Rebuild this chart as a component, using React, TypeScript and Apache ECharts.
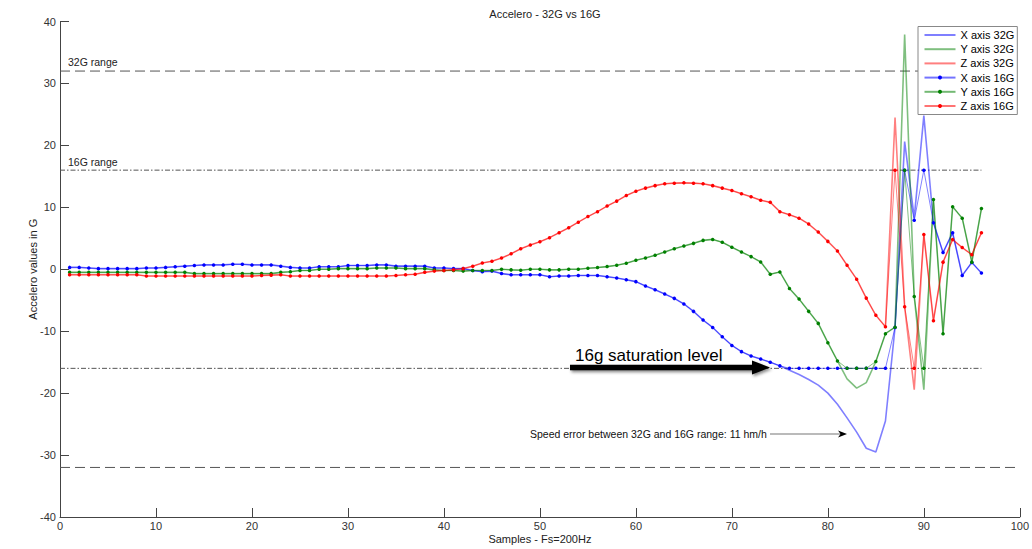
import React, { useEffect, useRef } from 'react';
import * as echarts from 'echarts';

const FONT = '"Liberation Sans", Arial, Helvetica, sans-serif';

// sample index (x values)
const samples = Array.from({ length: 96 }, (_, i) => i + 1);

// ---- 16G acquisition (with markers) ----
const x16 = [
  0.3, 0.3, 0.2, 0.1, 0.1, 0.1, 0.1, 0.1, 0.2, 0.2,
  0.3, 0.4, 0.5, 0.6, 0.7, 0.7, 0.7, 0.8, 0.8, 0.7,
  0.7, 0.7, 0.5, 0.3, 0.2, 0.2, 0.4, 0.4, 0.4, 0.6,
  0.6, 0.6, 0.7, 0.7, 0.5, 0.5, 0.5, 0.5, 0.2, 0.2,
  0.1, 0.1, -0.2, -0.4, -0.3, -0.7, -0.9, -0.9, -0.9, -0.9,
  -1.2, -1.1, -1.1, -1.0, -1.0, -1.0, -1.2, -1.4, -1.7, -2.0,
  -2.7, -3.3, -4.0, -4.7, -5.6, -6.8, -8.2, -9.4, -10.9, -12.3,
  -13.3, -14.0, -14.5, -15.0, -15.6, -16, -16, -16, -16, -16,
  -16, -16, -16, -16, -16, -16, -9.4, 16, 7.9, 16,
  7.5, 2.7, 5.9, -1.0, 1.1, -0.6,
];
const y16 = [
  -0.5, -0.5, -0.5, -0.5, -0.5, -0.5, -0.5, -0.5, -0.5, -0.5,
  -0.5, -0.5, -0.5, -0.7, -0.7, -0.7, -0.7, -0.7, -0.7, -0.7,
  -0.7, -0.7, -0.5, -0.4, -0.2, -0.2, 0, 0, 0.1, 0.1,
  0.1, 0.1, 0.2, 0.2, 0.2, 0.1, 0.1, 0.1, -0.1, -0.2,
  -0.2, -0.3, -0.2, -0.2, -0.2, 0, -0.1, -0.15, 0, 0,
  -0.1, -0.1, 0, 0, 0.16, 0.27, 0.43, 0.64, 0.96, 1.45,
  1.82, 2.25, 2.79, 3.32, 3.75, 4.18, 4.66, 4.82, 4.35, 3.55,
  2.79, 2.04, 1.18, -0.8, -0.43, -3.1, -4.82, -6.8, -8.74, -11.85,
  -14.8, -16, -16, -16, -14.9, -10.4, -9.35, 16, -4.4, -16,
  11.25, -10.4, 10.1, 8.25, 1.15, 9.8,
];
const z16 = [
  -0.9, -0.9, -0.9, -0.9, -0.9, -0.9, -0.9, -0.9, -1.1, -1.1,
  -1.1, -1.1, -1.1, -1.1, -1.1, -1.1, -1.1, -1.1, -1.1, -1.1,
  -1.0, -0.95, -0.9, -1.1, -1.1, -1.1, -1.1, -1.1, -1.1, -1.1,
  -1.1, -1.1, -1.1, -1.1, -1.0, -0.9, -0.8, -0.5, -0.3, -0.2,
  -0.1, 0.1, 0.5, 1.0, 1.3, 1.8, 2.5, 3.3, 3.9, 4.45,
  5.1, 5.9, 6.7, 7.6, 8.5, 9.3, 10.2, 11.0, 11.9, 12.6,
  13.1, 13.5, 13.8, 13.9, 13.95, 13.9, 13.8, 13.5, 13.1, 12.7,
  12.2, 11.7, 11.15, 10.8, 9.3, 8.8, 8.25, 7.3, 6.0, 4.5,
  2.95, 0.65, -1.6, -4.66, -7.44, -9.3, 16, -6.06, -16, 5.6,
  -8.3, 1.15, 4.8, 3.5, 2.35, 5.9,
];

// ---- 32G acquisition (plain lines) ----
const x32 = [
  0.3, 0.3, 0.2, 0.1, 0.1, 0.1, 0.1, 0.1, 0.2, 0.2,
  0.3, 0.4, 0.5, 0.6, 0.7, 0.7, 0.7, 0.8, 0.8, 0.7,
  0.7, 0.7, 0.5, 0.3, 0.2, 0.2, 0.4, 0.4, 0.4, 0.6,
  0.6, 0.6, 0.7, 0.7, 0.5, 0.5, 0.5, 0.5, 0.2, 0.2,
  0.1, 0.1, -0.2, -0.4, -0.3, -0.7, -0.9, -0.9, -0.9, -0.9,
  -1.2, -1.1, -1.1, -1.0, -1.0, -1.0, -1.2, -1.4, -1.7, -2.0,
  -2.7, -3.3, -4.0, -4.7, -5.6, -6.8, -8.2, -9.4, -10.9, -12.3,
  -13.3, -14.0, -14.5, -15.0, -15.6, -16.3, -17.0, -17.8, -18.7, -20.0,
  -21.8, -24.0, -26.3, -28.9, -29.5, -24.5, -9.4, 20.6, 8.3, 24.8,
  7.5, 2.7, 5.9, -1.0, 1.1, -0.6,
];
const y32 = [
  -0.5, -0.5, -0.5, -0.5, -0.5, -0.5, -0.5, -0.5, -0.5, -0.5,
  -0.5, -0.5, -0.5, -0.7, -0.7, -0.7, -0.7, -0.7, -0.7, -0.7,
  -0.7, -0.7, -0.5, -0.4, -0.2, -0.2, 0, 0, 0.1, 0.1,
  0.1, 0.1, 0.2, 0.2, 0.2, 0.1, 0.1, 0.1, -0.1, -0.2,
  -0.2, -0.3, -0.2, -0.2, -0.2, 0, -0.1, -0.15, 0, 0,
  -0.1, -0.1, 0, 0, 0.16, 0.27, 0.43, 0.64, 0.96, 1.45,
  1.82, 2.25, 2.79, 3.32, 3.75, 4.18, 4.66, 4.82, 4.35, 3.55,
  2.79, 2.04, 1.18, -0.8, -0.43, -3.1, -4.82, -6.8, -8.74, -11.85,
  -14.8, -17.7, -19.2, -18.3, -14.9, -10.4, -9.35, 37.9, -4.4, -19.45,
  11.25, -10.4, 10.1, 8.25, 1.15, 9.8,
];
const z32 = [
  -0.9, -0.9, -0.9, -0.9, -0.9, -0.9, -0.9, -0.9, -1.1, -1.1,
  -1.1, -1.1, -1.1, -1.1, -1.1, -1.1, -1.1, -1.1, -1.1, -1.1,
  -1.0, -0.95, -0.9, -1.1, -1.1, -1.1, -1.1, -1.1, -1.1, -1.1,
  -1.1, -1.1, -1.1, -1.1, -1.0, -0.9, -0.8, -0.5, -0.3, -0.2,
  -0.1, 0.1, 0.5, 1.0, 1.3, 1.8, 2.5, 3.3, 3.9, 4.45,
  5.1, 5.9, 6.7, 7.6, 8.5, 9.3, 10.2, 11.0, 11.9, 12.6,
  13.1, 13.5, 13.8, 13.9, 13.95, 13.9, 13.8, 13.5, 13.1, 12.7,
  12.2, 11.7, 11.15, 10.8, 9.3, 8.8, 8.25, 7.3, 6.0, 4.5,
  2.95, 0.65, -1.6, -4.66, -7.44, -9.3, 24.5, -6.06, -19.45, 5.6,
  -8.3, 1.15, 4.8, 3.5, 2.35, 5.9,
];

// reference levels and their x-spans
const range32Level = 32;
const range16Level = 16;
const range32Span = [0, 100];
const range16Span = [0, 96];

const seriesNames32 = ['X axis 32G', 'Y axis 32G', 'Z axis 32G'];
const seriesNames16 = ['X axis 16G', 'Y axis 16G', 'Z axis 16G'];

export default function App() {
  const ref = useRef<HTMLDivElement>(null);

  useEffect(() => {
    document.body.style.margin = '0';
    const chart = echarts.init(ref.current!, null, { renderer: 'svg' });

    const pair = (ys: number[]) => samples.map((s, i) => [s, ys[i]]);

    const light = ['rgba(0,0,255,0.5)', 'rgba(0,128,0,0.5)', 'rgba(255,0,0,0.5)'];
    const mid = ['rgba(0,0,255,0.55)', 'rgba(0,128,0,0.55)', 'rgba(255,0,0,0.55)'];
    const solid = ['#0000ff', '#008000', '#ff0000'];

    const refLine = (level: number, span: number[], type: any) => ({
      type: 'line',
      data: [[span[0], level], [span[1], level]],
      symbol: 'none',
      silent: true,
      z: 1,
      lineStyle: { color: '#555', width: 1, type },
    });

    const s32 = [x32, y32, z32].map((d, k) => ({
      name: seriesNames32[k],
      type: 'line',
      data: pair(d),
      symbol: 'none',
      z: 2,
      lineStyle: { color: light[k], width: 1.6 },
      itemStyle: { color: light[k] },
    }));
    const s16 = [x16, y16, z16].map((d, k) => ({
      name: seriesNames16[k],
      type: 'line',
      data: pair(d),
      symbol: 'circle',
      symbolSize: 3.5,
      showSymbol: true,
      showAllSymbol: true,
      z: 3,
      lineStyle: { color: mid[k], width: 0.9 },
      itemStyle: { color: solid[k] },
    }));

    const shadow = { shadowBlur: 3, shadowColor: 'rgba(0,0,0,0.45)', shadowOffsetX: 1.5, shadowOffsetY: 2 };

    const option: any = {
      animation: false,
      textStyle: { fontFamily: FONT },
      title: {
        text: 'Accelero - 32G vs 16G',
        left: 540,
        top: 3,
        textAlign: 'center',
        textStyle: { fontSize: 11, fontWeight: 'normal', color: '#222', fontFamily: FONT },
      },
      grid: { left: 60, top: 21.5, width: 961, height: 497.5, containLabel: false },
      xAxis: {
        type: 'value',
        min: 0,
        max: 100,
        interval: 10,
        name: 'Samples - Fs=200Hz',
        nameLocation: 'middle',
        nameGap: 16,
        nameMoveOverlap: false,
        nameTextStyle: { fontSize: 11, color: '#222', fontFamily: FONT },
        axisLine: { show: true, onZero: false, lineStyle: { color: '#444', width: 1 } },
        axisTick: { show: true, inside: true, length: 9, lineStyle: { color: '#444' } },
        axisLabel: { fontSize: 11, color: '#333', margin: 3, fontFamily: FONT },
        splitLine: { show: false },
      },
      yAxis: {
        type: 'value',
        min: -40,
        max: 40,
        interval: 10,
        name: 'Accelero values in G',
        nameLocation: 'middle',
        nameGap: 22,
        nameMoveOverlap: false,
        nameTextStyle: { fontSize: 11, color: '#222', fontFamily: FONT },
        axisLine: { show: true, onZero: false, lineStyle: { color: '#444', width: 1 } },
        axisTick: { show: true, inside: true, length: 9, lineStyle: { color: '#444' } },
        axisLabel: { fontSize: 11, color: '#333', margin: 4, fontFamily: FONT },
        splitLine: { show: false },
      },
      legend: {
        orient: 'vertical',
        left: 918,
        top: 26.5,
        padding: [2, 3, 2, 5.5],
        itemWidth: 31,
        itemHeight: 5,
        itemGap: 1.2,
        borderColor: '#888',
        borderWidth: 1,
        backgroundColor: '#fff',
        selectedMode: false,
        textStyle: { fontSize: 11, color: '#000', lineHeight: 13, fontFamily: FONT },
        data: [
          ...seriesNames32.map((n) => ({ name: n, itemStyle: { opacity: 0 } })),
          ...seriesNames16.map((n) => ({ name: n })),
        ],
      },
      series: [
        refLine(range32Level, range32Span, [10, 5]),
        refLine(-range32Level, range32Span, [10, 5]),
        refLine(range16Level, range16Span, [5, 2, 1.5, 2]),
        refLine(-range16Level, range16Span, [5, 2, 1.5, 2]),
        ...s32,
        ...s16,
      ],
      graphic: [
        { type: 'text', style: { x: 68, y: 61.5, text: '32G range', fontSize: 10.5, fill: '#222', fontFamily: FONT, verticalAlign: 'middle' } },
        { type: 'text', style: { x: 68, y: 161.5, text: '16G range', fontSize: 10.5, fill: '#222', fontFamily: FONT, verticalAlign: 'middle' } },
        { type: 'text', z: 10, style: { x: 575, y: 355, text: '16g saturation level', fontSize: 17, fill: '#000', fontFamily: FONT, verticalAlign: 'middle' } },
        {
          type: 'rect', z: 10,
          shape: { x: 570, y: 364.8, width: 184, height: 5.5 },
          style: { fill: '#000', ...shadow },
        },
        {
          type: 'polygon', z: 10,
          shape: { points: [[752, 360.5], [770, 367.5], [752, 374.5]] },
          style: { fill: '#000', ...shadow },
        },
        { type: 'text', z: 10, style: { x: 530, y: 434, text: 'Speed error between 32G and 16G range: 11 hm/h', fontSize: 10.5, fill: '#111', fontFamily: FONT, verticalAlign: 'middle' } },
        {
          type: 'rect', z: 10,
          shape: { x: 770, y: 433.5, width: 72, height: 1 },
          style: { fill: '#777' },
        },
        {
          type: 'polygon', z: 10,
          shape: { points: [[838, 430.5], [847, 434], [838, 437.5], [840.5, 434]] },
          style: { fill: '#000' },
        },
      ],
    };

    chart.setOption(option);
    return () => chart.dispose();
  }, []);

  return <div ref={ref} style={{ width: 1032, height: 549 }} />;
}
